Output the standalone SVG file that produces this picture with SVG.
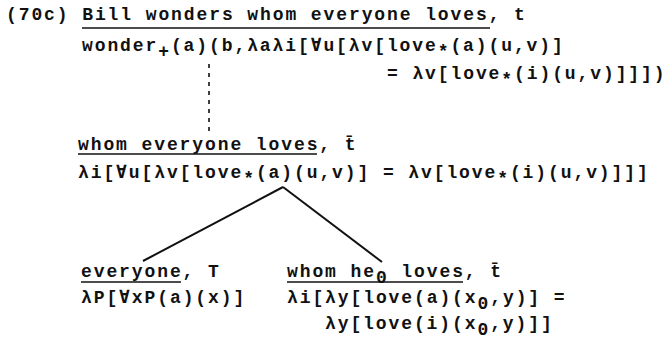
<svg xmlns="http://www.w3.org/2000/svg" width="671" height="349" viewBox="0 0 671 349">
<style>
text{font-family:"Liberation Mono","DejaVu Sans Mono",monospace;font-size:18px;font-weight:bold;letter-spacing:1.9px;fill:#111;white-space:pre}
.ul{stroke:#111;stroke-width:1.6}
.edge{stroke:#111;stroke-width:2;fill:none}
.dash{stroke:#111;stroke-width:1.6;stroke-dasharray:4 5;fill:none}
</style>
<rect width="671" height="349" fill="#fff"/>
<g id="connectors">
<line class="dash" x1="209" y1="64" x2="209" y2="134"/>
<line class="edge" x1="283" y1="187" x2="143" y2="261"/>
<line class="edge" x1="283" y1="187" x2="382" y2="262"/>
</g>
<g id="root">
<text x="6" y="20">(70c) Bill wonders whom everyone loves, t</text>
<line class="ul" x1="82" y1="28" x2="490" y2="28"/>
<text x="82" y="51">wonder<tspan dy="6">+</tspan><tspan dy="-6">(a)(b,λaλi[∀u[λv[love</tspan><tspan dy="6">*</tspan><tspan dy="-6">(a)(u,v)]</tspan></text>
<text x="387" y="79">= λv[love<tspan dy="6">*</tspan><tspan dy="-6">(i)(u,v)]]])</tspan></text>
</g>
<g id="whom-everyone-loves">
<text x="78" y="150">whom everyone loves, t̄</text>
<line class="ul" x1="78" y1="154" x2="317" y2="154"/>
<text x="78" y="178">λi[∀u[λv[love<tspan dy="6">*</tspan><tspan dy="-6">(a)(u,v)] = λv[love</tspan><tspan dy="6">*</tspan><tspan dy="-6">(i)(u,v)]]]</tspan></text>
</g>
<g id="everyone">
<text x="81" y="277">everyone, T</text>
<line class="ul" x1="81" y1="282" x2="181" y2="282"/>
<text x="81" y="303">λP[∀xP(a)(x)]</text>
</g>
<g id="whom-he0-loves">
<text x="287" y="277">whom he<tspan dy="6">0</tspan><tspan dy="-6"> loves, t̄</tspan></text>
<line class="ul" x1="287" y1="282" x2="463" y2="282"/>
<text x="287" y="303">λi[λy[love(a)(x<tspan dy="6">0</tspan><tspan dy="-6">,y)] =</tspan></text>
<text x="325" y="329">λy[love(i)(x<tspan dy="6">0</tspan><tspan dy="-6">,y)]]</tspan></text>
</g>
</svg>
